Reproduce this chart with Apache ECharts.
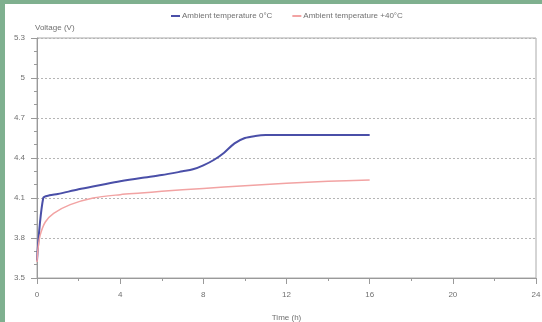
<!DOCTYPE html>
<html><head><meta charset="utf-8">
<script src="https://cdn.jsdelivr.net/npm/echarts@6/dist/echarts.min.js"></script>
<style>html,body{margin:0;padding:0;background:#fff}#c{width:542px;height:322px}</style>
</head><body><div id="c"></div>
<script>
const seriesNames = ['Ambient temperature 0°C', 'Ambient temperature +40°C'];
const timeCold = [0, 0.3, 0.6, 1, 2, 3, 4, 5, 6, 7, 7.5, 8, 8.5, 9, 9.5, 10, 10.5, 11, 12, 14, 16];
const voltCold = [3.63, 4.10, 4.12, 4.13, 4.165, 4.195, 4.225, 4.25, 4.272, 4.30, 4.315, 4.345, 4.385, 4.44, 4.51, 4.55, 4.565, 4.572, 4.573, 4.573, 4.573];
const timeHot = [0, 0.05, 0.15, 0.4, 0.8, 1.6, 2.7, 4, 5, 6, 8, 10, 12, 14, 16];
const voltHot = [3.62, 3.72, 3.82, 3.92, 3.985, 4.05, 4.10, 4.125, 4.137, 4.15, 4.172, 4.192, 4.21, 4.225, 4.235];
const xTicks = {min: 0, max: 24, step: 4};
const yTicks = {min: 3.5, max: 5.3, step: 0.3};

const zip = (a, b) => a.map((x, i) => [x, b[i]]);
const chart = echarts.init(document.getElementById('c'));
const axisGray = '#9a9a9a';
const labelGray = '#707070';
const fam = 'Liberation Sans, Arial, sans-serif';
chart.setOption({
  animation: false,
  backgroundColor: '#fff',
  graphic: [
    {type: 'rect', shape: {x: 0, y: 0, width: 542, height: 4}, style: {fill: '#7fb08f'}},
    {type: 'rect', shape: {x: 0, y: 0, width: 5, height: 322}, style: {fill: '#7fb08f'}}
  ],
  legend: {
    top: 7, left: 166, itemGap: 20, itemWidth: 9, itemHeight: 2,
    textStyle: {fontSize: 8, color: labelGray, fontFamily: fam, padding: [0, 0, 0, -3]},
    data: [{name: seriesNames[0], icon: 'rect'}, {name: seriesNames[1], icon: 'rect'}]
  },
  grid: {left: 37, right: 6, top: 38, bottom: 44, containLabel: false, outerBoundsMode: 'none',
         show: true, borderColor: '#aaa', borderWidth: 1, backgroundColor: '#fff'},
  xAxis: {
    type: 'value', min: xTicks.min, max: xTicks.max, interval: xTicks.step,
    name: 'Time (h)', nameLocation: 'middle', nameGap: 36,
    nameTextStyle: {fontSize: 8, color: labelGray, fontFamily: fam},
    axisLine: {show: true, lineStyle: {color: axisGray}},
    axisTick: {show: true, length: 6, inside: false, lineStyle: {color: axisGray}},
    minorTick: {show: true, splitNumber: 2, length: 3, lineStyle: {color: axisGray}},
    axisLabel: {fontSize: 8, color: labelGray, fontFamily: fam, margin: 13},
    splitLine: {show: false}
  },
  yAxis: {
    type: 'value', min: yTicks.min, max: yTicks.max, interval: yTicks.step,
    name: 'Voltage (V)', nameLocation: 'end', nameGap: 6,
    nameTextStyle: {fontSize: 8, color: labelGray, fontFamily: fam, align: 'left', padding: [0, 0, 0, -2]},
    axisLine: {show: true, lineStyle: {color: axisGray}},
    axisTick: {show: true, length: 6, lineStyle: {color: axisGray}},
    minorTick: {show: true, splitNumber: 3, length: 3, lineStyle: {color: axisGray}},
    axisLabel: {fontSize: 8, color: labelGray, fontFamily: fam, margin: 12, formatter: v => String(+v.toFixed(1))},
    splitLine: {show: true, lineStyle: {color: '#b5b5b5', type: [2, 2], width: 1}}
  },
  series: [
    {name: seriesNames[0], type: 'line', data: zip(timeCold, voltCold), smooth: 0.3, showSymbol: false,
     lineStyle: {color: '#4a4fa8', width: 2}, itemStyle: {color: '#4a4fa8'}},
    {name: seriesNames[1], type: 'line', data: zip(timeHot, voltHot), smooth: 0.3, showSymbol: false,
     lineStyle: {color: '#f2a3a3', width: 1.5}, itemStyle: {color: '#f2a3a3'}}
  ]
});
</script></body></html>
